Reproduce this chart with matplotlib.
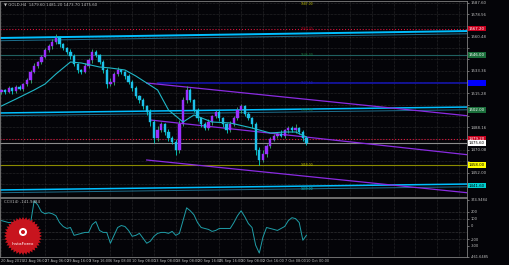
import numpy as np
import matplotlib.pyplot as plt
from matplotlib.patches import Polygon, Circle

# ---- GOLD H4 candles (one entry per drawn bar) ----
first_open = 1516.8
closes = [1518.0, 1516.4, 1519.6, 1517.2, 1520.4, 1518.8, 1522.8, 1526.0, 1532.4, 1537.2,
          1540.4, 1544.4, 1550.0, 1553.2, 1556.4, 1559.6, 1554.8, 1551.6, 1548.4, 1545.2,
          1538.8, 1534.0, 1532.4, 1537.2, 1542.0, 1548.4, 1546.0, 1540.4, 1534.0, 1522.8,
          1524.4, 1530.8, 1534.0, 1532.4, 1529.2, 1524.4, 1519.6, 1513.2, 1510.0, 1505.2,
          1500.4, 1492.4, 1479.6, 1486.0, 1490.8, 1484.4, 1479.6, 1476.4, 1470.0, 1490.8,
          1510.0, 1518.0, 1510.0, 1502.0, 1495.6, 1490.8, 1487.6, 1492.4, 1497.2, 1500.4,
          1495.6, 1490.8, 1486.0, 1490.8, 1495.6, 1502.0, 1505.2, 1498.8, 1495.6, 1490.8,
          1470.0, 1462.0, 1466.8, 1473.2, 1478.4, 1481.6, 1483.2, 1481.6, 1486.0, 1487.6,
          1486.0, 1487.6, 1484.4, 1479.6, 1475.6]
up_wick = [1.2, 0.8, 1.6, 0.8, 1.2, 2.0, 0.8, 1.6, 1.2, 2.4,
           0.8, 1.6, 2.0, 1.2, 2.4, 3.2, 1.6, 0.8, 1.2, 2.0,
           1.6, 0.8, 1.2, 2.4, 1.6, 2.8, 1.2, 0.8, 1.6, 2.0,
           3.2, 1.6, 2.4, 1.2, 0.8, 1.6, 1.2, 2.0, 0.8, 1.6,
           1.2, 2.4, 1.6, 3.2, 2.0, 1.2, 2.4, 1.6, 2.8, 3.6,
           2.4, 3.2, 1.6, 1.2, 2.0, 0.8, 1.6, 2.4, 1.2, 2.0,
           1.6, 0.8, 1.2, 2.4, 1.6, 2.8, 2.0, 1.2, 1.6, 0.8,
           1.6, 2.4, 3.2, 1.6, 2.0, 1.2, 1.6, 2.4, 1.2, 2.0,
           1.6, 3.2, 1.2, 2.0, 1.6]
lo_wick = [1.6, 1.2, 0.8, 2.0, 1.2, 0.8, 1.6, 1.2, 2.0, 0.8,
           1.2, 1.6, 0.8, 1.2, 2.0, 1.6, 2.4, 1.2, 1.6, 2.0,
           1.2, 2.4, 1.6, 0.8, 1.2, 2.0, 1.6, 1.2, 2.4, 3.2,
           1.6, 2.0, 1.2, 1.6, 2.4, 1.2, 2.0, 1.6, 2.4, 2.0,
           2.8, 3.2, 4.0, 2.4, 1.6, 2.0, 2.4, 1.6, 3.6, 2.0,
           1.6, 2.4, 1.2, 1.6, 2.0, 2.4, 1.6, 1.2, 2.0, 1.6,
           2.4, 2.0, 2.4, 1.6, 1.2, 1.6, 2.0, 1.2, 1.6, 3.2,
           4.0, 4.0, 1.6, 2.0, 1.2, 1.6, 2.0, 1.2, 1.6, 2.0,
           1.2, 2.4, 1.6, 2.4, 1.6]

# moving average, read at a few bars
ma_idx = [0, 4, 9, 12, 15, 19, 22, 27, 30, 34, 37, 40, 43, 46, 50, 53, 58, 63, 69, 74, 78, 81, 84]
ma_val = [1505.2, 1510.8, 1518.0, 1522.8, 1530.8, 1540.4, 1539.6, 1536.4, 1535.6, 1534.0,
          1529.2, 1523.6, 1518.0, 1502.0, 1492.4, 1498.0, 1492.4, 1491.6, 1487.6, 1483.6,
          1484.4, 1484.4, 1480.4]

# CCI oscillator
cci = [72, 58, 43, 43, 43, 43, 43, 29, 29, 360,
       303, 202, 173, 187, 173, 144, 43, -14, -43, -29,
       -144, -130, -115, -101, -101, 14, 58, -72, -101, -101,
       -260, -144, -29, 0, -14, -72, -158, -144, -115, -187,
       -260, -230, -158, -115, -101, -101, -115, -86, -144, -115,
       72, 260, 216, 158, 43, -29, -43, -57, -86, -72,
       -43, -43, -43, -43, 43, 144, 216, 130, 29, -29,
       -288, -404, -173, -29, -43, -57, -72, -43, -14, 72,
       115, 101, 43, -216, -141.9484]

# horizontal levels: price, colour, style
levels = [
    (1567.2, '#dc143c', ':'),
    (1546.0, '#1f6060', '-'),
    (1479.2, '#dc143c', ':'),
    (1475.6, '#8c8c8c', '-'),
    (1458.0, '#8b8b00', '-'),
]
# sloped trendlines: (idx0, price0, idx1, price1, colour, width)
trendlines = [
    (-1, 1559.6, 129, 1565.2, '#00bfff', 1.4),
    (-1, 1499.6, 129, 1504.4, '#00bfff', 1.1),
    (-1, 1438.0, 129, 1442.8, '#00bfff', 1.1),
    (40, 1523.6, 129, 1497.2, '#8a2be2', 0.9),
    (41, 1494.0, 129, 1466.0, '#8a2be2', 0.9),
    (40, 1462.0, 129, 1435.6, '#8a2be2', 0.9),
]
blue_level = 1523.6
price_ticks = [1587.60, 1578.56, 1569.52, 1560.48, 1551.44, 1542.40, 1533.36, 1524.32,
               1515.28, 1506.24, 1497.20, 1488.16, 1479.12, 1470.08, 1461.04, 1452.00, 1442.96]
# price boxes on the right scale: price, box colour, text colour
box_levels = [(1567.2, '#c8001e', 'white'), (1546.0, '#1a6e3a', 'white'),
              (blue_level, '#0000ff', '#0000ff'), (1502.0, '#1a6e3a', 'white'),
              (1479.2, '#c8001e', 'white'), (1475.6, '#ffffff', 'black'),
              (1458.0, '#ffff00', 'black'), (1441.6, '#00ced1', 'black')]
cci_ticks = [374.9484, 200, 100, 0, -200, -300, -461.6485]
cci_tick_labels = ["374.9484", "200", "100", "0", "-200", "-300", "-461.6485"]
date_labels = ["20 Aug 2019", "22 Aug 06:00", "27 Aug 06:00", "29 Aug 16:00", "3 Sep 16:00",
               "6 Sep 08:00", "10 Sep 08:00", "13 Sep 08:00", "18 Sep 08:00", "20 Sep 16:00",
               "25 Sep 16:00", "30 Sep 08:00", "2 Oct 16:00", "7 Oct 08:00", "10 Oct 00:00"]

BG = '#040408'
TXT = '#c0c0c0'
GRID = '#4a4a4a'

fig = plt.figure(figsize=(5.1, 2.65), dpi=100, facecolor=BG)
ax = fig.add_axes([0.0, 1 - 197 / 265, 467 / 510, 196 / 265], facecolor=BG)
axc = fig.add_axes([0.0, 1 - 257 / 265, 467 / 510, 59 / 265], facecolor=BG, sharex=ax)

n = len(closes)
idx = np.arange(n)
opens = np.array([first_open] + closes[:-1])
closes_a = np.array(closes)
highs = np.maximum(opens, closes_a) + np.array(up_wick)
lows = np.minimum(opens, closes_a) - np.array(lo_wick)
bull = closes_a >= opens

xlim = (-0.4, 128.2)
grid_x = np.arange(0, 129, 6)

# ---- main price panel ----
for gx in grid_x:
    ax.axvline(gx, color=GRID, lw=0.4, ls=(0, (1, 1.5)), zorder=0)
for py in price_ticks:
    ax.axhline(py, color=GRID, lw=0.4, ls=(0, (1, 1.5)), zorder=0)

for price, col, ls in levels:
    ax.axhline(price, color=col, lw=0.8, ls=ls, zorder=1)
ax.plot([43, 129], [blue_level, blue_level], color='#1414a8', lw=1.2, zorder=1)
for x0, p0, x1, p1, col, w in trendlines:
    ax.plot([x0, x1], [p0, p1], color=col, lw=w, zorder=2)
    if col == '#00bfff':
        ax.plot([x0, x1], [p0 - 2.2, p1 - 2.2], color='#1e6e8c', lw=0.7, zorder=1)

wick_col = np.where(bull, '#3cb371', '#00d8c8')
body_col = np.where(bull, '#9b30ff', '#1ec0ea')
ax.vlines(idx, lows, highs, colors=wick_col, lw=0.6, zorder=3)
body_h = np.maximum(np.abs(closes_a - opens), 0.5)
ax.bar(idx, body_h, bottom=np.minimum(opens, closes_a), width=0.62,
       color=body_col, edgecolor=body_col, lw=0.3, zorder=4)
ax.plot(ma_idx, ma_val, color='#20b8c8', lw=0.8, zorder=5)

# right axis (tick labels hidden where a price box covers them)
ax.set_xlim(*xlim)
ax.set_ylim(1432.4, 1589.2)
ax.yaxis.tick_right()
ax.set_yticks(price_ticks)
box_prices = [b[0] for b in box_levels]
ax.set_yticklabels([f"{p:.2f}" if min(abs(p - b) for b in box_prices) > 5.5 else ""
                    for p in price_ticks])
ax.tick_params(axis='y', length=1.5, width=0.4, colors=TXT, labelsize=2.8, pad=1)
ax.tick_params(axis='x', length=0, labelbottom=False)

for price, fc, tc in box_levels:
    ax.text(1.004, price, f"{price:.2f}", transform=ax.get_yaxis_transform(),
            fontsize=2.8, color=tc, va='center', ha='left', clip_on=False,
            bbox=dict(boxstyle='square,pad=0.25', fc=fc, ec='none'))

# small labels on the lines
line_tags = [(1587.0, '#c8c800'), (1567.2, '#c8001e'), (1546.0, '#1a8040'),
             (blue_level, '#2020c0'), (1502.0, '#1a8040'), (1458.0, '#c8c800'),
             (1439.0, '#00ced1')]
for price, col in line_tags:
    ax.text(82.5, price, f"{price:.2f}", fontsize=2.2, color=col, va='center', ha='left')

ax.text(0.008, 0.992, "\u25bc GOLD,H4  1479.60 1481.20 1473.70 1475.60", transform=ax.transAxes,
        va='top', ha='left', fontsize=2.8, color=TXT)

for s in ax.spines.values():
    s.set_color('#808080')
    s.set_linewidth(0.6)

# ---- CCI panel ----
for gx in grid_x:
    axc.axvline(gx, color=GRID, lw=0.4, ls=(0, (1, 1.5)), zorder=0)
for lv in [200, 100, -100, -200]:
    axc.axhline(lv, color='#6a6a6a', lw=0.4, ls=(0, (1, 1.5)), zorder=0)
axc.plot(idx, cci, color='#1f9ea8', lw=0.7, zorder=3)
axc.set_ylim(-461.6, 403.8)
axc.yaxis.tick_right()
axc.set_yticks(cci_ticks)
axc.set_yticklabels(cci_tick_labels)
axc.tick_params(axis='y', length=1.5, width=0.4, colors=TXT, labelsize=2.6, pad=1)
axc.set_xticks(np.arange(0, 6 * len(date_labels), 6))
axc.set_xticklabels(date_labels, ha='left')
axc.tick_params(axis='x', length=0, colors=TXT, labelsize=2.5, pad=1.5)
axc.text(0.008, 0.96, "CCI(14) -141.9484", transform=axc.transAxes,
         va='top', ha='left', fontsize=2.8, color=TXT)
for s in axc.spines.values():
    s.set_color('#808080')
    s.set_linewidth(0.6)

# ---- InstaForex badge ----
ov = fig.add_axes([0, 0, 1, 1], facecolor='none')
ov.set_xlim(0, 510)
ov.set_ylim(265, 0)
ov.axis('off')
cx, cy = 23, 236
ang = np.linspace(0, 2 * np.pi, 73)[:-1]
rad = np.where(np.arange(72) % 2 == 0, 19, 16.5)
star = np.column_stack([cx + rad * np.cos(ang), cy + rad * np.sin(ang)])
ov.add_patch(Polygon(star, closed=True, fc='#c8141e', ec='none', zorder=10))
ov.add_patch(Circle((cx, cy - 4), 4, fc='white', ec='none', zorder=11))
ov.add_patch(Circle((cx, cy - 4), 2, fc='#c8141e', ec='none', zorder=12))
ov.text(cx, cy + 8, "InstaForex", color='white', fontsize=3.2, ha='center', va='center', zorder=12)

fig.savefig('out.png', dpi=100, facecolor=BG)
